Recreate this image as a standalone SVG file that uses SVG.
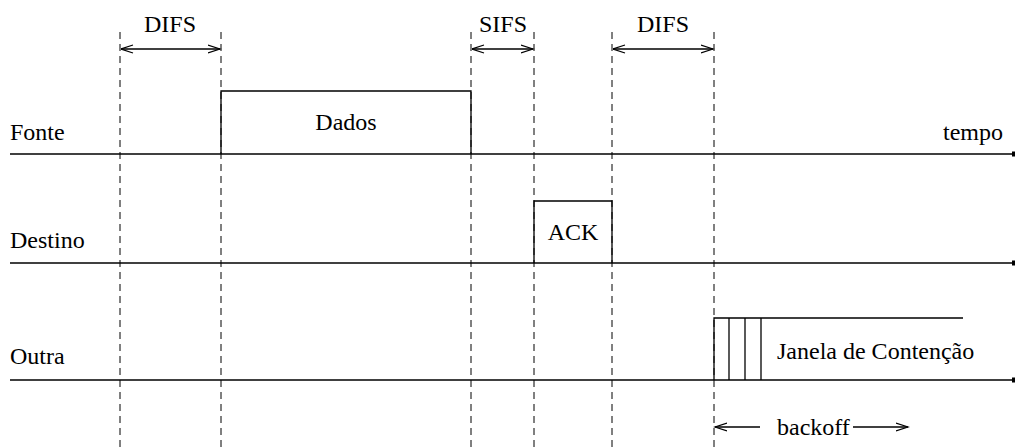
<svg xmlns="http://www.w3.org/2000/svg" width="1015" height="448" viewBox="0 0 1015 448" font-family="'Liberation Serif', 'DejaVu Serif', serif">
<style>
text{font-family:'Liberation Serif','DejaVu Serif',serif;font-size:24px;fill:#000}
.dash{stroke:#000;stroke-width:1;stroke-dasharray:7,5;fill:none}
.ln{stroke:#000;stroke-width:1.3;fill:none}
.arr{stroke:#000;stroke-width:1.3;fill:none;marker-end:url(#ah)}
.dbl{stroke:#000;stroke-width:1.3;fill:none;marker-start:url(#ahs);marker-end:url(#ah)}
.tl{stroke:#000;stroke-width:1.3;fill:none;marker-end:url(#sq)}
</style>
<defs>
<marker id="ah" markerWidth="14" markerHeight="10" refX="12" refY="5" orient="auto" markerUnits="userSpaceOnUse">
<path d="M0,1 L12,5 L0,9" fill="none" stroke="#000" stroke-width="1.2"/>
</marker>
<marker id="ahs" markerWidth="14" markerHeight="10" refX="0" refY="5" orient="auto" markerUnits="userSpaceOnUse">
<path d="M12,1 L0,5 L12,9" fill="none" stroke="#000" stroke-width="1.2"/>
</marker>
<marker id="sq" markerWidth="4" markerHeight="6" refX="3" refY="3" orient="auto" markerUnits="userSpaceOnUse">
<rect x="0" y="0.5" width="3" height="5" fill="#000"/>
</marker>
</defs>
<g id="guides">
<line class="dash" x1="120" y1="32" x2="120" y2="448"/>
<line class="dash" x1="221" y1="32" x2="221" y2="448"/>
<line class="dash" x1="471" y1="32" x2="471" y2="448"/>
<line class="dash" x1="534" y1="32" x2="534" y2="448"/>
<line class="dash" x1="612" y1="32" x2="612" y2="448"/>
<line class="dash" x1="714" y1="32" x2="714" y2="448"/>
</g>
<g id="timelines">
<line class="tl" x1="10" y1="154" x2="1015" y2="154"/>
<line class="tl" x1="10" y1="263" x2="1015" y2="263"/>
<line class="tl" x1="10" y1="380" x2="1015" y2="380"/>
<text x="10" y="140">Fonte</text>
<text x="1003" y="140" text-anchor="end">tempo</text>
<text x="10" y="248">Destino</text>
<text x="10" y="364">Outra</text>
</g>
<g id="dados">
<path class="ln" d="M221,154 V91 H471 V154"/>
<text x="346" y="130" text-anchor="middle">Dados</text>
</g>
<g id="ack">
<path class="ln" d="M534,263 V201 H612 V263"/>
<text x="573" y="240" text-anchor="middle">ACK</text>
</g>
<g id="janela">
<path class="ln" d="M714,380 V318 H963"/>
<line class="ln" x1="729" y1="318" x2="729" y2="380"/>
<line class="ln" x1="745" y1="318" x2="745" y2="380"/>
<line class="ln" x1="761" y1="318" x2="761" y2="380"/>
<text x="777" y="359">Janela de Contenção</text>
</g>
<g id="connectors">
<line class="dbl" x1="121" y1="49" x2="220" y2="49"/>
<line class="dbl" x1="472" y1="49" x2="533" y2="49"/>
<line class="dbl" x1="613" y1="49" x2="713" y2="49"/>
<line class="arr" x1="760" y1="427" x2="715" y2="427"/>
<line class="arr" x1="853" y1="427" x2="908" y2="427"/>
</g>
<g id="labels">
<text x="170" y="32" text-anchor="middle">DIFS</text>
<text x="503" y="32" text-anchor="middle">SIFS</text>
<text x="663" y="32" text-anchor="middle">DIFS</text>
<text x="777" y="435">backoff</text>
</g>
</svg>
